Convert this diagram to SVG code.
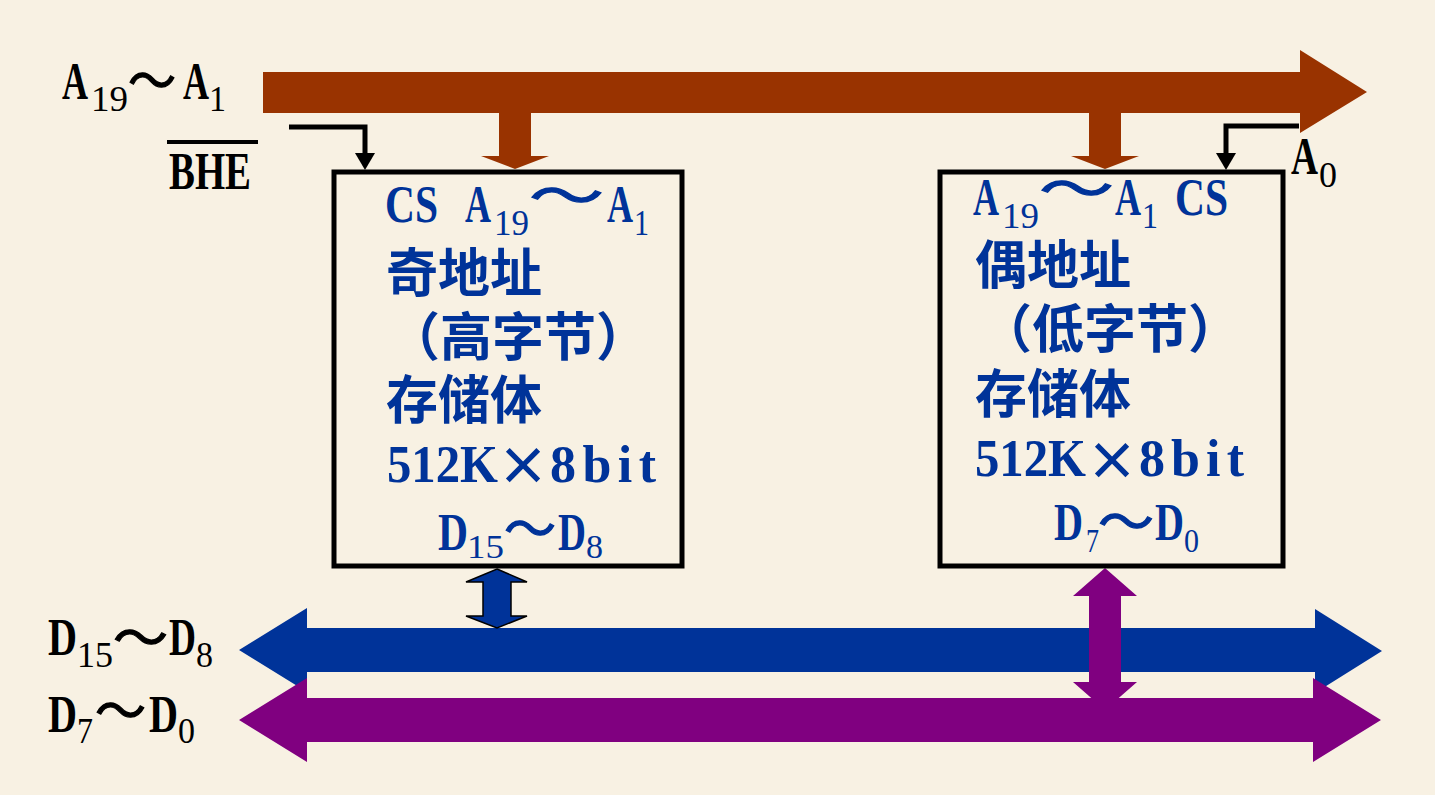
<svg xmlns="http://www.w3.org/2000/svg" width="1435" height="795" viewBox="0 0 1435 795">
<style>
.lat{font-family:"Liberation Serif",serif;font-size:52px;font-weight:bold}
.sub{font-family:"Liberation Serif",serif;font-size:35px}
.sub2{font-family:"Liberation Serif",serif;font-size:33px}
.tl{font-family:"Noto Sans CJK SC",sans-serif;font-size:52px;font-weight:bold}
.wave{font-family:"Noto Sans CJK SC",sans-serif;font-size:52px;font-weight:normal;stroke-width:1.2px}
.blk{fill:#000;stroke:#000}
.blu{fill:#003399;stroke:#003399}
.lat.blk,.lat.blu,.sub.blk,.sub.blu,.sub2.blu,.tl.blu{stroke:none}
.box{fill:none;stroke:#000;stroke-width:5}
.wire{fill:none;stroke:#000;stroke-width:5}
</style>
<rect x="0" y="0" width="1435" height="795" fill="#F8F1E3"/>

<g id="connectors">
  <polygon fill="#993300" points="263,72 1300,72 1300,50 1367,92 1300,133 1300,113 263,113"/>
  <polygon fill="#993300" points="499,110 531,110 531,156 549,156 515,169 481,156 499,156"/>
  <polygon fill="#993300" points="1089,110 1121,110 1121,156 1139,156 1105,169 1071,156 1089,156"/>
  <polyline class="wire" points="289,127 365,127 365,156"/>
  <polygon fill="#000" points="355,153 375,153 365,170"/>
  <polyline class="wire" points="1299,126 1226,126 1226,156"/>
  <polygon fill="#000" points="1216,153 1236,153 1226,170"/>
  <polygon fill="#003399" points="239,650 307,608 307,628 1315,628 1315,609 1382,651 1315,693 1315,672 307,672 307,692"/>
  <polygon fill="#800080" points="239,720 307,678 307,698 1313,698 1313,678 1381,720 1313,762 1313,742 307,742 307,762"/>
  <polygon fill="#003399" stroke="#000" stroke-width="1.5" points="497,569 527,582 511,582 511,616 527,616 497,628 466,616 483,616 483,582 466,582"/>
  <polygon fill="#800080" points="1105,568 1137,596 1121,596 1121,682 1137,682 1105,710 1073,682 1089,682 1089,596 1073,596"/>
</g>

<g id="label-a19-a1">
  <text class="lat blk" x="62" y="99" textLength="26" lengthAdjust="spacingAndGlyphs">A</text>
  <text class="sub blk" x="91" y="111" textLength="37" lengthAdjust="spacingAndGlyphs">19</text>
  <text class="wave blk" x="128" y="100" textLength="48" lengthAdjust="spacingAndGlyphs">～</text>
  <text class="lat blk" x="183" y="99" textLength="26" lengthAdjust="spacingAndGlyphs">A</text>
  <text class="sub blk" x="209" y="111" textLength="17" lengthAdjust="spacingAndGlyphs">1</text>
</g>

<g id="label-bhe">
  <rect x="167" y="140" width="91" height="4" fill="#000"/>
  <text class="lat blk" x="169" y="189" textLength="82" lengthAdjust="spacingAndGlyphs">BHE</text>
</g>

<g id="label-a0">
  <text class="lat blk" x="1291" y="174" textLength="27" lengthAdjust="spacingAndGlyphs">A</text>
  <text class="sub blk" x="1319" y="187" textLength="18" lengthAdjust="spacingAndGlyphs">0</text>
</g>

<g id="label-d15-d8">
  <text class="lat blk" x="48" y="655" textLength="29" lengthAdjust="spacingAndGlyphs">D</text>
  <text class="sub blk" x="77" y="667" textLength="36" lengthAdjust="spacingAndGlyphs">15</text>
  <text class="wave blk" x="113" y="657" textLength="55" lengthAdjust="spacingAndGlyphs">～</text>
  <text class="lat blk" x="169" y="655" textLength="27" lengthAdjust="spacingAndGlyphs">D</text>
  <text class="sub blk" x="196" y="667" textLength="17" lengthAdjust="spacingAndGlyphs">8</text>
</g>

<g id="label-d7-d0">
  <text class="lat blk" x="48" y="732" textLength="29" lengthAdjust="spacingAndGlyphs">D</text>
  <text class="sub blk" x="77" y="743" textLength="16" lengthAdjust="spacingAndGlyphs">7</text>
  <text class="wave blk" x="95" y="730" textLength="51" lengthAdjust="spacingAndGlyphs">～</text>
  <text class="lat blk" x="149" y="732" textLength="29" lengthAdjust="spacingAndGlyphs">D</text>
  <text class="sub blk" x="178" y="743" textLength="17" lengthAdjust="spacingAndGlyphs">0</text>
</g>

<g id="odd-bank">
  <rect class="box" x="334" y="172" width="348" height="394"/>
  <text class="lat blu" x="385" y="222" textLength="53" lengthAdjust="spacingAndGlyphs">CS</text>
  <text class="lat blu" x="465" y="222" textLength="26" lengthAdjust="spacingAndGlyphs">A</text>
  <text class="sub blu" x="494" y="235" textLength="35" lengthAdjust="spacingAndGlyphs">19</text>
  <text class="wave blu" x="529" y="215" textLength="75" lengthAdjust="spacingAndGlyphs">～</text>
  <text class="lat blu" x="607" y="222" textLength="26" lengthAdjust="spacingAndGlyphs">A</text>
  <text class="sub blu" x="634" y="235" textLength="15" lengthAdjust="spacingAndGlyphs">1</text>
  <text class="tl blu" x="386" y="292">奇地址</text>
  <text class="tl blu" x="388" y="356">（高字节）</text>
  <text class="tl blu" x="386" y="419">存储体</text>
  <text class="lat blu" x="387" y="482" textLength="111" lengthAdjust="spacingAndGlyphs">512K</text>
  <text class="tl blu" x="523" y="485" text-anchor="middle">×</text>
  <text class="lat blu" x="550" y="482" textLength="106" lengthAdjust="spacing">8bit</text>
  <text class="lat blu" x="438" y="550" textLength="30" lengthAdjust="spacingAndGlyphs">D</text>
  <text class="sub2 blu" x="467" y="558" textLength="37" lengthAdjust="spacingAndGlyphs">15</text>
  <text class="wave blu" x="504" y="548" textLength="52" lengthAdjust="spacingAndGlyphs">～</text>
  <text class="lat blu" x="558" y="550" textLength="28" lengthAdjust="spacingAndGlyphs">D</text>
  <text class="sub2 blu" x="586" y="558" textLength="17" lengthAdjust="spacingAndGlyphs">8</text>
</g>

<g id="even-bank">
  <rect class="box" x="940" y="172" width="343" height="394"/>
  <text class="lat blu" x="973" y="215" textLength="26" lengthAdjust="spacingAndGlyphs">A</text>
  <text class="sub blu" x="1002" y="228" textLength="37" lengthAdjust="spacingAndGlyphs">19</text>
  <text class="wave blu" x="1039" y="208" textLength="75" lengthAdjust="spacingAndGlyphs">～</text>
  <text class="lat blu" x="1115" y="215" textLength="26" lengthAdjust="spacingAndGlyphs">A</text>
  <text class="sub blu" x="1142" y="228" textLength="16" lengthAdjust="spacingAndGlyphs">1</text>
  <text class="lat blu" x="1175" y="215" textLength="53" lengthAdjust="spacingAndGlyphs">CS</text>
  <text class="tl blu" x="975" y="284">偶地址</text>
  <text class="tl blu" x="980" y="348">（低字节）</text>
  <text class="tl blu" x="975" y="413">存储体</text>
  <text class="lat blu" x="975" y="476" textLength="111" lengthAdjust="spacingAndGlyphs">512K</text>
  <text class="tl blu" x="1112" y="480" text-anchor="middle">×</text>
  <text class="lat blu" x="1139" y="476" textLength="105" lengthAdjust="spacing">8bit</text>
  <text class="lat blu" x="1054" y="540" textLength="29" lengthAdjust="spacingAndGlyphs">D</text>
  <text class="sub2 blu" x="1086" y="552" textLength="13" lengthAdjust="spacingAndGlyphs">7</text>
  <text class="wave blu" x="1098" y="541" textLength="56" lengthAdjust="spacingAndGlyphs">～</text>
  <text class="lat blu" x="1155" y="540" textLength="29" lengthAdjust="spacingAndGlyphs">D</text>
  <text class="sub2 blu" x="1184" y="552" textLength="15" lengthAdjust="spacingAndGlyphs">0</text>
</g>
</svg>
